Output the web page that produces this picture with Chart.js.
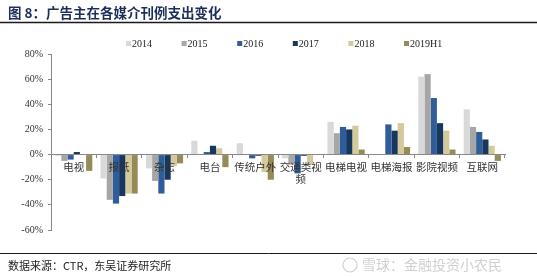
<!DOCTYPE html>
<html>
<head>
<meta charset="utf-8">
<script src="https://cdn.jsdelivr.net/npm/chart.js@4"></script>
<style>
  body { margin: 0; background: #fff; }
  canvas { display: block; }
</style>
</head>
<body>
<canvas id="chart" width="537" height="278"></canvas>
<script>
// Media categories along the x axis
const categories = ["电视", "报纸", "杂志", "电台", "传统户外", ["交通类视", "频"], "电梯电视", "电梯海报", "影院视频", "互联网"];

// Year-on-year change of list-price ad spend, in percent
const years = ["2014", "2015", "2016", "2017", "2018", "2019H1"];
const v2014 = [-1, -19, -11, 11, 9, -3, 26, 0, 62, 36];
const v2015 = [-5, -36, -21, 0, 0, -8, 17, 0, 64, 22];
const v2016 = [-4, -39, -31, 2, -3, -15, 22, 24, 45, 18];
const v2017 = [2, -33, -20, 7, -1, -1, 20, 19, 25, 12];
const v2018 = [0, -31, -9, 5, -14, -8, 23, 25, 19, 7];
const v2019H1 = [-13, -31, -7, -10, -20, 0, 4, 6, 4, -5];

const yTicks = [-60, -40, -20, 0, 20, 40, 60, 80];

const colors = ["#d9d9d9", "#a6a6a6", "#2f5d9a", "#17375e", "#d4c99b", "#958b57"];
const series = [v2014, v2015, v2016, v2017, v2018, v2019H1];

const serif = "'Liberation Serif', 'DejaVu Serif', serif";
const cjk = "'Noto Sans CJK SC', sans-serif";

// Title, rules, source line and custom legend
const decorPlugin = {
  id: "decor",
  beforeDraw(chart) {
    const ctx = chart.ctx;
    ctx.save();
    ctx.fillStyle = "#ffffff";
    ctx.fillRect(0, 0, chart.width, chart.height);
    ctx.restore();
  },
  afterDraw(chart) {
    const ctx = chart.ctx;
    ctx.save();

    // title
    ctx.font = "bold 13.5px " + cjk;
    ctx.fillStyle = "#1b2f5a";
    ctx.textBaseline = "middle";
    ctx.textAlign = "left";
    ctx.fillText("图 8：广告主在各媒介刊例支出变化", 8, 13);

    // rules
    ctx.strokeStyle = "#1a1a1a";
    ctx.lineWidth = 1.5;
    ctx.beginPath();
    ctx.moveTo(0, 22.5);
    ctx.lineTo(chart.width, 22.5);
    ctx.stroke();
    ctx.lineWidth = 1;
    ctx.beginPath();
    ctx.moveTo(0, 253.5);
    ctx.lineTo(chart.width, 253.5);
    ctx.stroke();

    // source
    ctx.font = "11px " + cjk;
    ctx.fillStyle = "#222222";
    ctx.fillText("数据来源：CTR，东吴证券研究所", 8, 266);

    // watermark
    ctx.font = "14px " + cjk;
    ctx.fillStyle = "#d0d0d0";
    ctx.fillText("雪球：金融投资小农民", 362, 265);
    ctx.strokeStyle = "#d0d0d0";
    ctx.lineWidth = 1.2;
    ctx.beginPath();
    ctx.arc(350, 265, 7, 0, Math.PI * 2);
    ctx.stroke();

    // legend
    ctx.font = "10px " + serif;
    chart.data.datasets.forEach((ds, i) => {
      const x = 126 + i * 55.6;
      ctx.fillStyle = ds.backgroundColor;
      ctx.fillRect(x, 41, 5, 5);
      ctx.fillStyle = "#222222";
      ctx.fillText(ds.label, x + 6, 44);
    });

    ctx.restore();
  },
};

new Chart(document.getElementById("chart"), {
  type: "bar",
  data: {
    labels: categories,
    datasets: years.map((y, i) => ({
      label: y,
      data: series[i],
      backgroundColor: colors[i],
      borderWidth: 0,
    })),
  },
  options: {
    responsive: false,
    animation: false,
    layout: { padding: { top: 54, bottom: 48, left: 0, right: 32 } },
    datasets: { bar: { categoryPercentage: 0.82, barPercentage: 1 } },
    plugins: {
      legend: { display: false },
      tooltip: { enabled: false },
    },
    scales: {
      x: {
        position: { y: 0 },
        afterFit: (s) => { s.height = 0; },
        grid: { drawOnChartArea: false, drawTicks: true, tickLength: 3, offset: true, color: "#888888", z: 1 },
        border: { color: "#888888", z: 1 },
        ticks: {
          z: 1,
          font: { family: cjk, size: 10.5 },
          color: "#333333",
          padding: 3,
          maxRotation: 0,
          autoSkip: false,
        },
      },
      y: {
        min: yTicks[0],
        max: yTicks[yTicks.length - 1],
        afterFit: (s) => { s.width = 51; },
        afterBuildTicks: (s) => { s.ticks = yTicks.map((v) => ({ value: v })); },
        grid: { drawOnChartArea: false, drawTicks: true, tickLength: 3, color: "#888888" },
        border: { color: "#888888" },
        ticks: {
          font: { family: serif, size: 10 },
          color: "#333333",
          padding: 5,
          callback: (v) => v + "%",
        },
      },
    },
  },
  plugins: [decorPlugin],
});
</script>
</body>
</html>
